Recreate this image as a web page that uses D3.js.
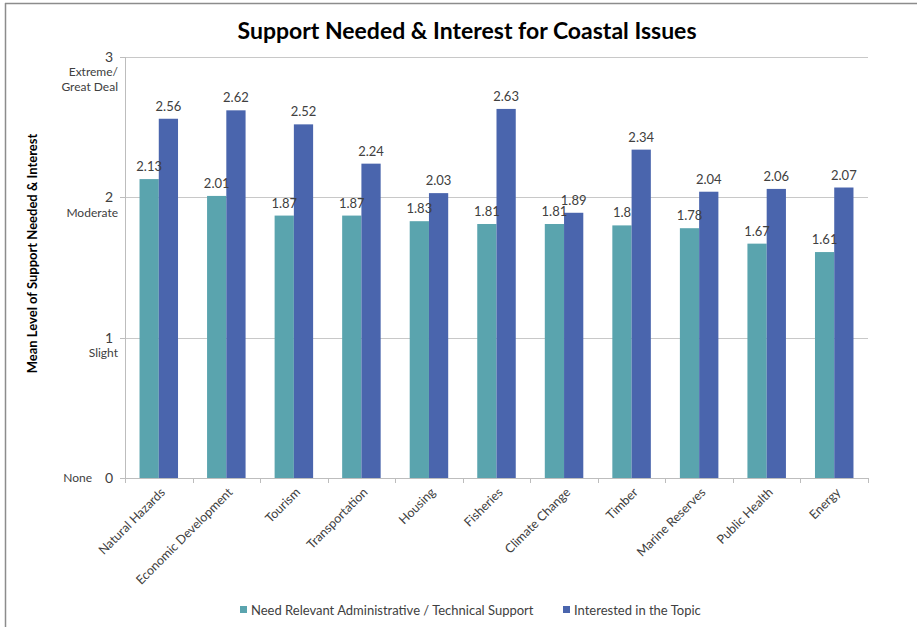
<!DOCTYPE html>
<html>
<head>
<meta charset="utf-8">
<script src="https://cdn.jsdelivr.net/npm/d3@7"></script>
<style>
  html, body { margin: 0; padding: 0; background: #fff; }
  svg { display: block; font-family: Lato, "Open Sans", sans-serif; }
</style>
</head>
<body>
<div id="chart"></div>
<script>
// Chart data
var categories = ['Natural Hazards', 'Economic Development', 'Tourism', 'Transportation',
  'Housing', 'Fisheries', 'Climate Change', 'Timber', 'Marine Reserves', 'Public Health', 'Energy'];
var supportNeeded = [2.13, 2.01, 1.87, 1.87, 1.83, 1.81, 1.81, 1.8, 1.78, 1.67, 1.61];
var interested = [2.56, 2.62, 2.52, 2.24, 2.03, 2.63, 1.89, 2.34, 2.04, 2.06, 2.07];
var seriesNames = ['Need Relevant Administrative / Technical Support', 'Interested in the Topic'];
var seriesColors = ['#5aa4ae', '#4a65ad'];
var yTicks = [0, 1, 2, 3];
var yTickWords = ['None', 'Slight', 'Moderate', 'Extreme/|Great Deal'];

var W = 917, H = 627;
var margin = { left: 125, right: 49, top: 57, bottom: 149 };

var svg = d3.select('#chart').append('svg')
  .attr('width', W)
  .attr('height', H);

// frame lines (top and left edge of the original chart box)
svg.append('line').attr('x1', 5).attr('x2', W).attr('y1', 3.5).attr('y2', 3.5)
  .attr('stroke', '#8c8c8c').attr('stroke-width', 1.5);
svg.append('line').attr('x1', 5.5).attr('x2', 5.5).attr('y1', 3).attr('y2', H)
  .attr('stroke', '#8c8c8c').attr('stroke-width', 1.5);

var x0 = d3.scaleBand()
  .domain(categories)
  .range([margin.left, W - margin.right])
  .paddingInner(0.43)
  .paddingOuter(0.215);

var x1 = d3.scaleBand()
  .domain([0, 1])
  .range([0, x0.bandwidth()]);

var y = d3.scaleLinear()
  .domain([0, 3])
  .range([H - margin.bottom, margin.top]);

// gridlines
svg.append('g')
  .selectAll('line')
  .data(yTicks.filter(function (t) { return t > 0; }))
  .join('line')
  .attr('x1', margin.left)
  .attr('x2', W - margin.right)
  .attr('y1', function (d) { return Math.round(y(d)) + 0.5; })
  .attr('y2', function (d) { return Math.round(y(d)) + 0.5; })
  .attr('stroke', '#c8c8c8');

// y axis line
svg.append('line')
  .attr('x1', margin.left + 0.5).attr('x2', margin.left + 0.5)
  .attr('y1', y(3)).attr('y2', y(0))
  .attr('stroke', '#bdbdbd');

// y tick marks
svg.append('g')
  .selectAll('line')
  .data(yTicks)
  .join('line')
  .attr('x1', margin.left - 5).attr('x2', margin.left)
  .attr('y1', function (d) { return Math.round(y(d)) + 0.5; })
  .attr('y2', function (d) { return Math.round(y(d)) + 0.5; })
  .attr('stroke', '#bdbdbd');

// y tick numbers
svg.append('g')
  .selectAll('text')
  .data(yTicks)
  .join('text')
  .attr('x', 113)
  .attr('y', function (d) { return y(d); })
  .attr('dy', '0.35em')
  .attr('text-anchor', 'end')
  .attr('font-size', '14px')
  .attr('fill', '#404040')
  .text(function (d) { return d; });

// y tick words
var words = svg.append('g')
  .selectAll('text')
  .data(yTicks)
  .join('text')
  .attr('font-size', '12px')
  .attr('fill', '#404040')
  .attr('text-anchor', 'end');

words.each(function (d, i) {
  var t = d3.select(this);
  var parts = yTickWords[i].split('|');
  if (d === 0) {
    t.attr('x', 92).attr('y', y(0)).attr('dy', '0.3em').text(parts[0]);
    return;
  }
  parts.forEach(function (p, j) {
    t.append('tspan')
      .attr('x', 118)
      .attr('y', y(d) + 15 + j * 15)
      .attr('dy', '0.35em')
      .text(p);
  });
});

// y axis title
svg.append('text')
  .attr('transform', 'translate(37,' + (y(1.6)) + ') rotate(-90)')
  .attr('text-anchor', 'middle')
  .attr('font-size', '13px')
  .attr('font-weight', 'bold')
  .attr('fill', '#000')
  .text('Mean Level of Support Needed & Interest');

// x axis line and ticks
var xStep = (W - margin.right - margin.left) / categories.length;
svg.append('line')
  .attr('x1', margin.left).attr('x2', W - margin.right)
  .attr('y1', Math.round(y(0)) + 0.5).attr('y2', Math.round(y(0)) + 0.5)
  .attr('stroke', '#bdbdbd');
svg.append('g')
  .selectAll('line')
  .data(d3.range(categories.length + 1))
  .join('line')
  .attr('x1', function (i) { return Math.round(margin.left + i * xStep) + 0.5; })
  .attr('x2', function (i) { return Math.round(margin.left + i * xStep) + 0.5; })
  .attr('y1', y(0)).attr('y2', y(0) + 5)
  .attr('stroke', '#bdbdbd');

// bars
var rows = categories.map(function (c, i) {
  return { cat: c, vals: [supportNeeded[i], interested[i]] };
});

var groups = svg.append('g')
  .selectAll('g')
  .data(rows)
  .join('g')
  .attr('transform', function (d) { return 'translate(' + x0(d.cat) + ',0)'; });

groups.selectAll('rect')
  .data(function (d) { return d.vals.map(function (v, k) { return { k: k, v: v }; }); })
  .join('rect')
  .attr('x', function (d) { return x1(d.k); })
  .attr('width', x1.bandwidth())
  .attr('y', function (d) { return y(d.v); })
  .attr('height', function (d) { return y(0) - y(d.v); })
  .attr('fill', function (d) { return seriesColors[d.k]; });

groups.selectAll('text')
  .data(function (d) { return d.vals.map(function (v, k) { return { k: k, v: v }; }); })
  .join('text')
  .attr('x', function (d) { return x1(d.k) + x1.bandwidth() / 2; })
  .attr('y', function (d) { return y(d.v) - 8; })
  .attr('text-anchor', 'middle')
  .attr('font-size', '13px')
  .attr('fill', '#404040')
  .text(function (d) { return d.v; });

// category labels
svg.append('g')
  .selectAll('text')
  .data(categories)
  .join('text')
  .attr('transform', function (d) {
    return 'translate(' + (x0(d) + x0.bandwidth() / 2 + 4) + ',' + (y(0) + 12) + ') rotate(-45)';
  })
  .attr('text-anchor', 'end')
  .attr('dy', '0.35em')
  .attr('font-size', '12.5px')
  .attr('fill', '#404040')
  .text(function (d) { return d; });

// title
svg.append('text')
  .attr('x', 467)
  .attr('y', 39)
  .attr('text-anchor', 'middle')
  .attr('font-size', '23px')
  .attr('font-weight', 'bold')
  .attr('fill', '#000')
  .text('Support Needed & Interest for Coastal Issues');

// legend
var legendX = [240, 563];
var legend = svg.append('g')
  .selectAll('g')
  .data(seriesNames)
  .join('g')
  .attr('transform', function (d, i) { return 'translate(' + legendX[i] + ',610)'; });
legend.append('rect')
  .attr('x', 0).attr('y', -4)
  .attr('width', 7).attr('height', 7)
  .attr('fill', function (d, i) { return seriesColors[i]; });
legend.append('text')
  .attr('x', 11)
  .attr('y', 0)
  .attr('dy', '0.35em')
  .attr('font-size', '13px')
  .attr('fill', '#404040')
  .text(function (d) { return d; });
</script>
</body>
</html>
